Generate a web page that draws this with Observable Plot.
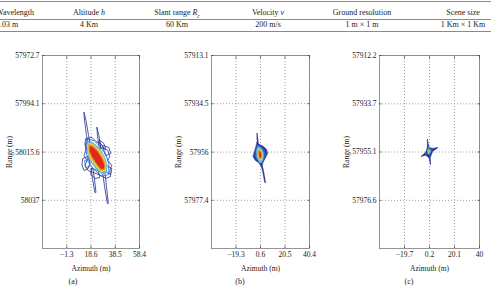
<!DOCTYPE html>
<html><head><meta charset="utf-8">
<script src="https://cdn.jsdelivr.net/npm/d3@7"></script>
<script src="https://cdn.jsdelivr.net/npm/@observablehq/plot@0.6"></script>
<style>
html,body{margin:0;padding:0;background:#fff;}
#root{position:relative;width:491px;height:287px;overflow:hidden;background:#fff;font-family:"Liberation Serif",serif;color:#222;}
.rule{position:absolute;left:0;width:491px;height:0;border-top:0.8px solid #8a8a8a;}
.cell{position:absolute;font-size:8px;line-height:10px;white-space:nowrap;transform:translateX(-50%);}
.cell.left{transform:none;}
.cap{position:absolute;font-size:8px;line-height:10px;transform:translateX(-50%);top:277px;}
.panel{position:absolute;top:40px;}
</style>
</head><body>
<div id="root"></div>
<script>
// ---- table data ----
const tableHeaders = ["Wavelength", "Altitude <i>h</i>", "Slant range <i>R<sub style='font-size:5.5px'>c</sub></i>", "Velocity <i>v</i>", "Ground resolution", "Scene size"];
const tableValues = ["0.03 m", "4 Km", "60 Km", "200 m/s", "1 m × 1 m", "1 Km × 1 Km"];
const captions = ["(a)", "(b)", "(c)"];

// ---- contour levels (jet colormap) ----
const levels = [1, 2, 3, 4, 5, 6];
const jet = ["#22308f", "#2f5cc4", "#58b8e0", "#e6e040", "#f08a28", "#e02a18"];

// ---- axis ticks ----
const azTicksA = [-1.3, 18.6, 38.5, 58.4];
const rgTicksA = [57972.7, 57994.1, 58015.6, 58037];
const azTicksB = [-19.3, 0.6, 20.5, 40.4];
const rgTicksB = [57913.1, 57934.5, 57956, 57977.4];
const azTicksC = [-19.7, 0.2, 20.1, 40];
const rgTicksC = [57912.2, 57933.7, 57955.1, 57976.6];

// ---- contour rings: [azimuth (m), range (m)] ----
const ringsA = [
  {level: 1, pts: [[12.9,57998.0],[14.5,58001.6],[16.6,58008.2],[18.6,58014.0],[17.4,58014.0],[14.9,58008.2],[13.3,58001.6]]},
  {level: 1, pts: [[23.5,58004.7],[25.1,58008.2],[26.7,58014.0],[25.5,58014.0],[23.9,58008.2]]},
  {level: 1, pts: [[20.2,58022.9],[21.4,58027.3],[22.7,58033.5],[21.8,58033.5],[19.8,58027.3],[18.6,58022.9]]},
  {level: 1, pts: [[30.0,58024.6],[31.2,58030.4],[32.8,58038.4],[32.0,58038.4],[30.0,58031.8],[28.3,58025.5]]},
  {level: 1, pts: [[14.5,58009.6],[19.4,58009.1],[22.7,58010.9],[26.7,58011.8],[29.2,58014.0],[32.4,58014.9],[34.0,58017.5],[32.4,58019.3],[35.7,58021.5],[34.0,58023.8],[34.8,58026.4],[30.8,58027.3],[28.3,58026.4],[24.3,58025.5],[20.2,58024.6],[16.2,58023.8],[13.7,58021.5],[15.3,58019.3],[12.9,58017.1],[14.5,58014.9],[13.7,58012.2]]},
  {level: 1, pts: [[12.1,58018.4],[16.2,58017.5],[17.8,58020.2],[16.2,58022.9],[12.9,58023.8],[11.3,58021.5]]},
  {level: 1, pts: [[28.3,58012.7],[33.2,58013.5],[34.8,58016.2],[30.8,58017.1]]},
  {level: 1, pts: [[19.4,58022.9],[24.3,58023.8],[25.9,58026.9],[21.8,58027.3],[18.6,58025.5]]},
  {level: 1, pts: [[30.8,58021.5],[35.7,58022.9],[34.8,58025.5],[31.6,58024.6]]},
  {level: 1, pts: [[14.5,58011.8],[17.8,58010.9],[18.6,58013.5],[15.3,58014.9]]},
  {level: 1, pts: [[25.9,58010.4],[29.2,58011.8],[30.8,58014.4],[26.7,58013.5]]},
  {level: 2, pts: [[13.7,58019.3],[17.0,58018.9],[17.8,58022.0],[14.5,58022.4]]},
  {level: 2, pts: [[15.3,58010.0],[21.0,58010.4],[26.7,58013.5],[30.8,58016.7],[33.2,58020.7],[33.2,58025.5],[27.5,58026.4],[21.0,58023.3],[16.2,58019.8],[14.5,58014.9]]},
  {level: 3, pts: [[16.2,58010.9],[20.2,58011.3],[25.9,58014.0],[29.2,58017.1],[31.6,58020.7],[31.6,58024.6],[26.7,58025.1],[21.8,58022.4],[17.8,58019.3],[15.3,58015.3]]},
  {level: 4, pts: [[16.6,58011.8],[20.2,58012.0],[25.1,58014.4],[28.3,58017.1],[30.8,58020.7],[30.8,58023.8],[26.7,58024.4],[22.7,58022.0],[18.6,58018.9],[16.2,58015.3]]},
  {level: 5, pts: [[17.0,58012.2],[20.2,58012.7],[24.3,58014.9],[27.5,58017.5],[30.0,58020.7],[30.0,58023.3],[26.7,58023.8],[23.5,58021.5],[19.4,58018.4],[17.0,58015.3]]},
  {level: 6, pts: [[17.8,58013.1],[20.2,58013.5],[23.5,58015.3],[26.7,58018.0],[29.2,58021.1],[29.2,58022.9],[26.7,58022.9],[23.5,58020.7],[20.2,58018.0],[17.8,58015.3]]}
];
const ringsB = [
  {level: 1, pts: [[-2.2,57947.7],[-1.6,57949.9],[-1.2,57952.2],[-1.8,57952.2],[-2.3,57949.9]]},
  {level: 1, pts: [[1.4,57960.6],[3.0,57964.2],[4.7,57969.5],[4.1,57969.5],[2.2,57964.2],[0.6,57961.1]]},
  {level: 1, pts: [[-2.3,57951.7],[-0.2,57952.6],[3.0,57953.5],[5.5,57954.8],[6.3,57956.6],[4.7,57958.4],[3.0,57960.2],[1.4,57962.4],[-1.0,57960.6],[-3.5,57959.7],[-5.5,57957.9],[-4.3,57955.7],[-3.1,57953.5]]},
  {level: 2, pts: [[-1.8,57952.6],[0.6,57953.3],[3.8,57954.8],[5.1,57956.6],[3.8,57958.4],[2.2,57960.6],[0.6,57961.5],[-1.8,57959.7],[-4.3,57957.9],[-3.5,57955.3]]},
  {level: 3, pts: [[-1.4,57953.5],[1.4,57954.4],[3.0,57956.2],[3.0,57958.4],[1.8,57960.6],[-0.2,57960.6],[-2.3,57958.4],[-2.7,57955.7]]},
  {level: 4, pts: [[-1.0,57954.4],[1.4,57955.3],[2.2,57957.1],[1.8,57959.3],[0.2,57959.7],[-1.4,57957.9],[-1.4,57955.7]]},
  {level: 5, pts: [[-0.6,57955.1],[1.0,57955.7],[1.4,57957.5],[1.0,57959.1],[-0.2,57958.8],[-0.8,57957.1]]},
  {level: 6, pts: [[-0.2,57955.7],[1.0,57956.4],[1.1,57957.9],[0.2,57958.6],[-0.4,57957.3]]}
];
const ringsC = [
  {level: 1, pts: [[-1.4,57949.5],[-0.4,57953.1],[2.6,57953.5],[7.0,57953.1],[2.6,57954.9],[0.8,57957.6],[1.0,57960.7],[-0.1,57957.8],[-2.6,57956.5],[-6.6,57957.1],[-2.6,57955.1],[-1.6,57953.1]]},
  {level: 2, pts: [[-1.0,57951.7],[0.0,57953.8],[2.6,57954.0],[1.0,57955.3],[0.6,57957.1],[-0.4,57956.2],[-3.4,57956.2],[-1.4,57954.9],[-1.1,57953.5]]},
  {level: 3, pts: [[-0.6,57953.5],[1.0,57954.2],[0.6,57955.6],[-1.0,57955.8],[-1.4,57954.7]]},
  {level: 4, pts: [[-0.4,57954.4],[0.6,57954.7],[0.4,57955.5],[-0.4,57955.5],[-0.8,57955.0]]},
  {level: 5, pts: [[-0.2,57954.7],[0.3,57954.9],[0.2,57955.3],[-0.3,57955.2]]}
];

// ---- build page ----
const root = document.getElementById("root");
function el(cls, html, css) { const d = document.createElement("div"); d.className = cls; d.innerHTML = html; Object.assign(d.style, css); root.appendChild(d); return d; }

el("rule", "", {top: "1px"});
el("rule", "", {top: "19px"});
el("rule", "", {top: "31px"});
const colX = [-4, 89, 177, 268, 362, 463];
tableHeaders.forEach((t, i) => el("cell" + (i === 0 ? " left" : ""), t, {left: colX[i] + "px", top: "8px"}));
tableValues.forEach((t, i) => el("cell" + (i === 0 ? " left" : ""), t, {left: colX[i] + "px", top: "20px"}));

const fmt = d => (d < 0 ? "\u2212" : "") + String(Math.abs(d));
const blank = () => "";
function rows(rings) { return rings.flatMap((r, i) => r.pts.map(([az, rg]) => ({ring: i, level: r.level, az, rg}))); }

function panel({rings, azTicks, rgTicks, azDomain, rgDomain, width, marginLeft, marginRight, left, fillFrom}) {
  const data = rows(rings);
  const gridStyle = {stroke: "#8a8a8a", strokeOpacity: 1, strokeWidth: 0.8, strokeDasharray: "1,2"};
  const inTick = {tickSize: -2.5, tickFormat: blank, label: null, stroke: "#444", strokeWidth: 0.7};
  const chart = Plot.plot({
    width, height: 235,
    marginLeft, marginRight, marginTop: 15, marginBottom: 27,
    style: {fontFamily: "Liberation Serif", fontSize: "7.5px", color: "#222", background: "transparent", overflow: "visible"},
    x: {domain: azDomain},
    y: {domain: rgDomain, reverse: true},
    color: {type: "ordinal", domain: levels, range: jet},
    marks: [
      Plot.gridX(azTicks, gridStyle),
      Plot.gridY(rgTicks, gridStyle),
      Plot.line(data.filter(d => d.level < fillFrom), {x: "az", y: "rg", z: "ring", stroke: "level", curve: "linear-closed", strokeWidth: 0.8}),
      Plot.line(data.filter(d => d.level >= fillFrom), {x: "az", y: "rg", z: "ring", stroke: "level", fill: "level", curve: "linear-closed", strokeWidth: 0.6}),
      Plot.frame({stroke: "#7a7a7a", strokeWidth: 0.8}),
      Plot.axisX(azTicks, {anchor: "bottom", ...inTick}),
      Plot.axisX(azTicks, {anchor: "top", ...inTick}),
      Plot.axisY(rgTicks, {anchor: "left", ...inTick}),
      Plot.axisY(rgTicks, {anchor: "right", ...inTick}),
      Plot.axisX(azTicks, {anchor: "bottom", tickSize: 0, tickPadding: 3, tickFormat: fmt, label: "Azimuth (m)", labelAnchor: "center", labelOffset: 22, labelArrow: "none", fontSize: 7.5}),
      Plot.axisY(rgTicks, {anchor: "left", tickSize: 0, tickPadding: 3, tickFormat: fmt, label: "Range (m)", labelAnchor: "center", labelOffset: 36, labelArrow: "none", fontSize: 7.5})
    ]
  });
  chart.classList.add("panel");
  chart.style.left = left + "px";
  root.appendChild(chart);
}

panel({rings: ringsA, azTicks: azTicksA, rgTicks: rgTicksA, azDomain: [-21.2, 58.4], rgDomain: [57972.7, 58058.4], width: 150, marginLeft: 42, marginRight: 11, left: 0, fillFrom: 3});
panel({rings: ringsB, azTicks: azTicksB, rgTicks: rgTicksB, azDomain: [-39.2, 40.4], rgDomain: [57913.1, 57998.8], width: 160, marginLeft: 51, marginRight: 11, left: 160, fillFrom: 1});
panel({rings: ringsC, azTicks: azTicksC, rgTicks: rgTicksC, azDomain: [-39.6, 40], rgDomain: [57912.2, 57998], width: 166, marginLeft: 54, marginRight: 12, left: 325, fillFrom: 1});

const capX = [73, 240, 409];
captions.forEach((t, i) => el("cap", t, {left: capX[i] + "px"}));
</script>
</body></html>
